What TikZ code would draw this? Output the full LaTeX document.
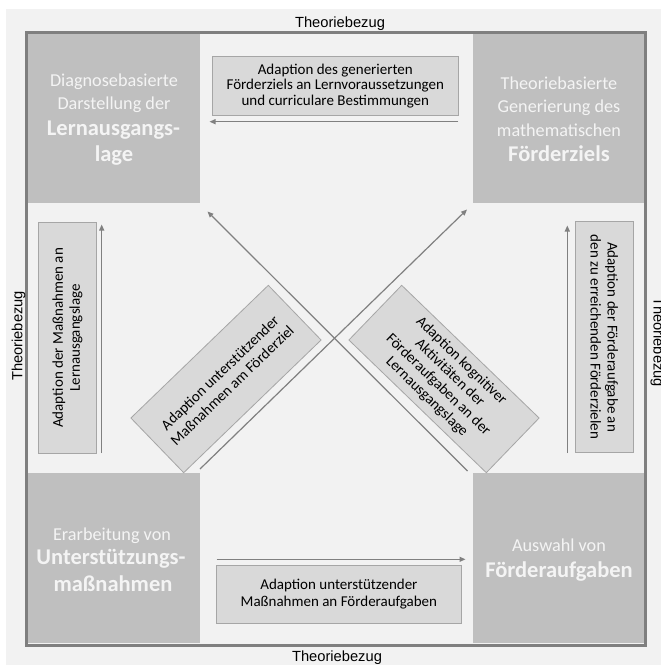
\documentclass[tikz,border=0pt]{standalone}
\usepackage{fontspec}
\setmainfont{Carlito}
\newfontfamily\arialfont{Liberation Sans}
\usetikzlibrary{arrows.meta}
\definecolor{bgc}{HTML}{F2F2F2}
\definecolor{framec}{HTML}{7F7F7F}
\definecolor{boxc}{HTML}{BFBFBF}
\definecolor{ctxt}{HTML}{F4F4F4}
\definecolor{lblc}{HTML}{D9D9D9}
\definecolor{lbld}{HTML}{A6A6A6}
\definecolor{arrc}{HTML}{808080}
\begin{document}
\begin{tikzpicture}[x=1pt,y=-1pt,
  cornerbox/.style={fill=boxc, draw=none, inner sep=0pt, outer sep=0pt},
  ctext/.style={text=ctxt, font=\fontsize{18.2}{22}\selectfont, anchor=base, inner sep=0pt},
  cbold/.style={text=ctxt, font=\fontsize{22.5}{26}\selectfont\bfseries, anchor=base, inner sep=0pt},
  lbl/.style={fill=lblc, draw=lbld, line width=0.8pt, align=center, text=black,
    font=\fontsize{15}{16.3}\selectfont, inner sep=0pt, outer sep=0pt},
  conn/.style={draw=arrc, line width=1.2pt, -{Triangle[length=6pt,width=5pt]}},
  theo/.style={font=\arialfont\fontsize{14.7}{17}\selectfont, anchor=base, inner sep=0pt}]
\useasboundingbox (0,0) rectangle (661,665);
\fill[bgc] (6,9) rectangle (661,665);
\draw[framec, line width=3pt] (26,32.5) rectangle (645.5,645);

% corner boxes
\node[cornerbox, minimum width=172pt, minimum height=169pt] (tl) at (114,118.5) {};
\node[cornerbox, minimum width=171pt, minimum height=169pt] (tr) at (558.5,118.5) {};
\node[cornerbox, minimum width=172pt, minimum height=170pt] (bl) at (114,558) {};
\node[cornerbox, minimum width=171pt, minimum height=170pt] (br) at (558.5,558) {};

% corner texts
\node[ctext] (tl1) at (114,86.7) {Diagnosebasierte};
\node[ctext] (tl2) at (114,109.3) {Darstellung der};
\node[cbold] (tl3) at (113.5,135.7) {Lernausgangs-};
\node[cbold] (tl4) at (114,161.7) {lage};

\node[ctext] (tr1) at (559,89.7) {Theoriebasierte};
\node[ctext] (tr2) at (559,112.7) {Generierung des};
\node[ctext] (tr3) at (559,136) {mathematischen};
\node[cbold] (tr4) at (559,161) {Förderziels};

\node[ctext] (bl1) at (112,540) {Erarbeitung von};
\node[cbold] (bl2) at (111,564) {Unterstützungs-};
\node[cbold] (bl3) at (113,591.7) {maßnahmen};

\node[ctext] (br1) at (559,551.7) {Auswahl von};
\node[cbold] (br2) at (559,577.3) {Förderaufgaben};

% Theoriebezug labels
\node[theo] (ttop) at (340,27) {Theoriebezug};
\node[theo] (tbot) at (337,661) {Theoriebezug};
\node[theo, rotate=90] (tleft) at (22.5,336) {Theoriebezug};
\node[theo, rotate=-90] (tright) at (653.5,342) {Theoriebezug};

% label boxes
\node[lbl, minimum width=246pt, minimum height=58.3pt, font=\fontsize{15}{15.5}\selectfont] (ltop) at (335.3,86)
  {Adaption des generierten\\Förderziels an Lernvoraussetzungen\\und curriculare Bestimmungen};
\node[lbl, minimum width=245.7pt, minimum height=58.3pt] (lbot) at (338.9,594.2)
  {Adaption unterstützender\\Maßnahmen an Förderaufgaben};
\node[lbl, rotate=90, minimum width=230.3pt, minimum height=58.4pt, font=\fontsize{15}{17}\selectfont] (lleft) at (67.5,337.9)
  {Adaption der Maßnahmen an\\Lernausgangslage};
\node[lbl, rotate=-90, minimum width=230.3pt, minimum height=58.3pt, font=\fontsize{15}{17}\selectfont] (lright) at (604.2,337)
  {Adaption der Förderaufgabe an\\den zu erreichenden Förderzielen};
\node[lbl, rotate=44, minimum width=191pt, minimum height=76pt, font=\fontsize{15}{17.5}\selectfont] (ldl) at (226,379)
  {Adaption unterstützender\\Maßnahmen am Förderziel};
\node[lbl, rotate=-44, minimum width=191pt, minimum height=76pt, font=\fontsize{15}{16.6}\selectfont] (ldr) at (444,379)
  {Adaption kognitiver\\Aktivitäten der\\Förderaufgaben an der\\Lernausgangslage};

% arrow end points
\coordinate (atop0) at (458.3,121.7);
\coordinate (atop1) at (209.5,121.7);
\coordinate (abot0) at (216.7,559.3);
\coordinate (abot1) at (465.5,559.3);
\coordinate (aleft0) at (101.7,453);
\coordinate (aleft1) at (101.7,224.5);
\coordinate (aright0) at (567.3,453);
\coordinate (aright1) at (567.3,225.5);
\coordinate (ad1a) at (200,469);
\coordinate (ad1b) at (467,209.5);
\coordinate (ad2a) at (467.5,471);
\coordinate (ad2b) at (207.5,211.5);

\draw[conn] (atop0) -- (atop1);
\draw[conn] (abot0) -- (abot1);
\draw[conn] (aleft0) -- (aleft1);
\draw[conn] (aright0) -- (aright1);
\draw[conn] (ad1a) -- (ad1b);
\draw[conn] (ad2a) -- (ad2b);
\end{tikzpicture}
\end{document}
